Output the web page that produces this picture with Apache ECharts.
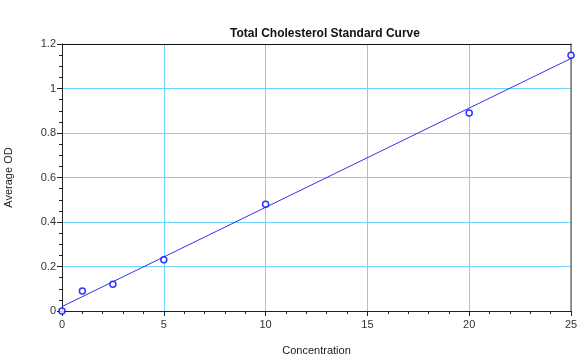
<!DOCTYPE html>
<html><head><meta charset="utf-8">
<script src="https://cdn.jsdelivr.net/npm/echarts@6/dist/echarts.min.js"></script>
<style>html,body{margin:0;padding:0;background:#fff}#c{width:579px;height:356px}</style>
</head><body><div id="c"></div>
<script>
const concentration = [0, 1, 2.5, 5, 10, 20, 25];
const averageOD = [0, 0.09, 0.12, 0.23, 0.48, 0.89, 1.15];
const fitX = [0, 25];
const fitY = [0.02, 1.135];
const xTicks = [0, 5, 10, 15, 20, 25];
const yTicks = [0, 0.2, 0.4, 0.6, 0.8, 1, 1.2];

const chart = echarts.init(document.getElementById('c'), null, {renderer: 'canvas'});
const font = 'Liberation Sans, Arial, sans-serif';
const gridLine = {show: true, lineStyle: {color: ['#6fd6ff'], type: 'solid', width: 1}};
chart.setOption({
  animation: false,
  title: {text: 'Total Cholesterol Standard Curve', left: 320, top: 23, textAlign: 'center',
    textStyle: {fontFamily: font, fontSize: 12, fontWeight: 'bold', color: '#111'}},
  grid: {left: 62, right: 8, top: 44, bottom: 45, containLabel: false, outerBoundsMode: 'none'},
  xAxis: [{
    type: 'value', min: xTicks[0], max: xTicks[xTicks.length-1], interval: 5,
    name: 'Concentration', nameLocation: 'middle', nameGap: 34,
    nameTextStyle: {fontFamily: font, fontSize: 11, color: '#222'},
    axisLine: {lineStyle: {color: '#222', width: 1}},
    axisTick: {show: true, length: 5, lineStyle: {color: '#222'}},
    minorTick: {show: true, splitNumber: 5, length: 3, lineStyle: {color: '#222'}},
    axisLabel: {fontFamily: font, fontSize: 11, color: '#333', margin: 8},
    splitLine: gridLine
  }, {
    type: 'value', position: 'top', min: 0, max: 25,
    axisLine: {show: true, onZero: false, lineStyle: {color: '#111', width: 1.2}},
    axisTick: {show: false}, axisLabel: {show: false}, splitLine: {show: false}
  }],
  yAxis: [{
    type: 'value', min: yTicks[0], max: yTicks[yTicks.length-1], interval: 0.2,
    name: 'Average OD', nameLocation: 'middle', nameGap: 48,
    nameTextStyle: {fontFamily: font, fontSize: 11, color: '#222'},
    axisLine: {show: true, lineStyle: {color: '#222', width: 1}},
    axisTick: {show: true, length: 5, lineStyle: {color: '#222'}},
    minorTick: {show: true, splitNumber: 4, length: 3, lineStyle: {color: '#222'}},
    axisLabel: {fontFamily: font, fontSize: 11, color: '#333', margin: 6},
    splitLine: gridLine
  }, {
    type: 'value', position: 'right', min: 0, max: 1.2,
    axisLine: {show: true, onZero: false, lineStyle: {color: '#777', width: 1.5}},
    axisTick: {show: false}, axisLabel: {show: false}, splitLine: {show: false}
  }],
  series: [{
    type: 'line', data: fitX.map((x, i) => [x, fitY[i]]),
    showSymbol: false, symbol: 'none',
    lineStyle: {color: '#3333ee', width: 1}, z: 2
  }, {
    type: 'scatter', data: concentration.map((x, i) => [x, averageOD[i]]),
    symbol: 'circle', symbolSize: 6,
    itemStyle: {color: '#fff', borderColor: '#0000ff', borderWidth: 1.5}, z: 3
  }]
});
</script></body></html>
